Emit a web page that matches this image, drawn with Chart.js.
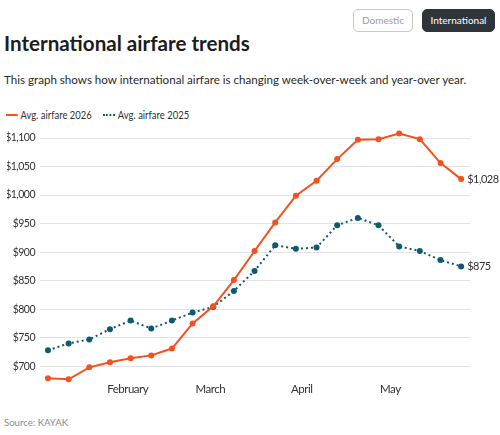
<!DOCTYPE html>
<html>
<head>
<meta charset="utf-8">
<script src="https://cdn.jsdelivr.net/npm/chart.js@4"></script>
<style>
  html, body { margin:0; padding:0; background:#fff; width:500px; height:435px; overflow:hidden; font-family: Lato, "Noto Sans", sans-serif; color:#1c1c1c; }
  .btn { position:absolute; top:9px; height:23px; box-sizing:border-box; border-radius:5px; font-size:10px; line-height:21px; text-align:center; }
  #dom { left:353px; width:60px; border:1px solid #c8c8c8; color:#9a9ea3; background:#fff; }
  #intl { left:422px; width:73px; border:1px solid #30353a; color:#fff; background:#30353a; }
  #title { position:absolute; left:4px; top:31px; font-size:20.6px; font-weight:700; white-space:nowrap; }
  #sub { position:absolute; left:4px; top:73px; font-size:11.6px; color:#2a2a2a; white-space:nowrap; }
  #legend { position:absolute; left:6px; top:109px; font-size:10.5px; color:#333; white-space:nowrap; display:flex; align-items:center; transform:scaleX(0.9); transform-origin:0 50%; }
  .sw { display:inline-block; width:13px; height:0; margin-right:3px; }
  #source { position:absolute; left:4px; top:417px; font-size:9.6px; color:#8a8a8a; }
  #wrap { position:absolute; left:0; top:120px; width:500px; height:276px; }
</style>
</head>
<body>
<div class="btn" id="dom">Domestic</div>
<div class="btn" id="intl">International</div>
<div id="title">International airfare trends</div>
<div id="sub">This graph shows how international airfare is changing week-over-week and year-over year.</div>
<div id="legend">
  <span class="sw" style="border-top:2px solid #f4511e"></span><span>Avg. airfare 2026</span>
  <span class="sw" style="border-top:2px dotted #0f5a6e; margin-left:13px"></span><span>Avg. airfare 2025</span>
</div>
<div id="source">Source: KAYAK</div>
<div id="wrap"><canvas id="c"></canvas></div>
<script>
// Week start dates (one point per week)
const weeks = ["2026-01-05","2026-01-12","2026-01-19","2026-01-26","2026-02-02","2026-02-09","2026-02-16",
  "2026-02-23","2026-03-02","2026-03-09","2026-03-16","2026-03-23","2026-03-30","2026-04-06",
  "2026-04-13","2026-04-20","2026-04-27","2026-05-04","2026-05-11","2026-05-18","2026-05-25"];
const fare2026 = [679,677,698,707,714,719,731,775,805,851,902,952,999,1025,1063,1097,1098,1108,1098,1056,1028];
const fare2025 = [728,740,747,765,780,766,780,794,804,832,867,912,906,908,947,960,947,910,902,886,875];
const monthTicks = ["2026-02-01","2026-03-01","2026-04-01","2026-05-01"];
const monthLabels = ["February","March","April","May"];
const yTicks = [700,750,800,850,900,950,1000,1050,1100];

const dayOf = s => (Date.UTC(+s.slice(0,4), +s.slice(5,7)-1, +s.slice(8,10)) - Date.UTC(2026,0,1)) / 86400000;
const xs = weeks.map(dayOf);
const monthX = monthTicks.map(dayOf);
const fmt = v => "$" + v.toLocaleString("en-US");
const FONT = "Lato, 'Noto Sans', sans-serif";

const tightText = {
  id: "tightText",
  beforeDraw(chart) { chart.ctx.letterSpacing = "-0.5px"; }
};

const endLabels = {
  id: "endLabels",
  afterDatasetsDraw(chart) {
    const ctx = chart.ctx;
    ctx.save();
    ctx.font = "11px " + FONT;
    ctx.fillStyle = "#333";
    ctx.textBaseline = "middle";
    chart.data.datasets.forEach((ds, i) => {
      const meta = chart.getDatasetMeta(i);
      const last = meta.data[meta.data.length - 1];
      const v = ds.data[ds.data.length - 1].y;
      ctx.fillText(fmt(v), last.x + 6, last.y);
    });
    ctx.restore();
  }
};

new Chart(document.getElementById("c"), {
  type: "line",
  data: {
    datasets: [
      { label: "Avg. airfare 2026", data: xs.map((x,i)=>({x, y: fare2026[i]})),
        borderColor: "#f4511e", backgroundColor: "#f4511e", borderWidth: 2,
        pointRadius: 3, pointHoverRadius: 3, pointBorderWidth: 0, tension: 0, clip: false },
      { label: "Avg. airfare 2025", data: xs.map((x,i)=>({x, y: fare2025[i]})),
        borderColor: "#0f5a6e", backgroundColor: "#0f5a6e", borderWidth: 2, borderDash: [2,3],
        pointRadius: 3, pointHoverRadius: 3, pointBorderWidth: 0, tension: 0, clip: false }
    ]
  },
  options: {
    responsive: true, maintainAspectRatio: false, animation: false,
    layout: { padding: { left: 7, right: 30, top: 12.3, bottom: 0 } },
    plugins: { legend: { display: false }, tooltip: { enabled: false } },
    scales: {
      x: { type: "linear", min: 1.3, max: 147,
        grid: { display: false, drawTicks: false }, border: { display: false },
        afterBuildTicks: s => { s.ticks = monthX.map(v => ({ value: v })); },
        ticks: { color: "#333", font: { size: 11.5, family: FONT }, padding: 0,
          maxRotation: 0, autoSkip: false,
          callback: (v) => monthLabels[monthX.indexOf(v)] } },
      y: { min: 672, max: 1110,
        grid: { color: "#e3e3e3", drawTicks: false }, border: { display: false },
        afterBuildTicks: s => { s.ticks = yTicks.map(v => ({ value: v })); },
        afterFit: s => { s.width = 33; },
        ticks: { color: "#333", font: { size: 10.5, family: FONT }, padding: 5,
          callback: v => fmt(v) } }
    }
  },
  plugins: [tightText, endLabels]
});
</script>
</body>
</html>
